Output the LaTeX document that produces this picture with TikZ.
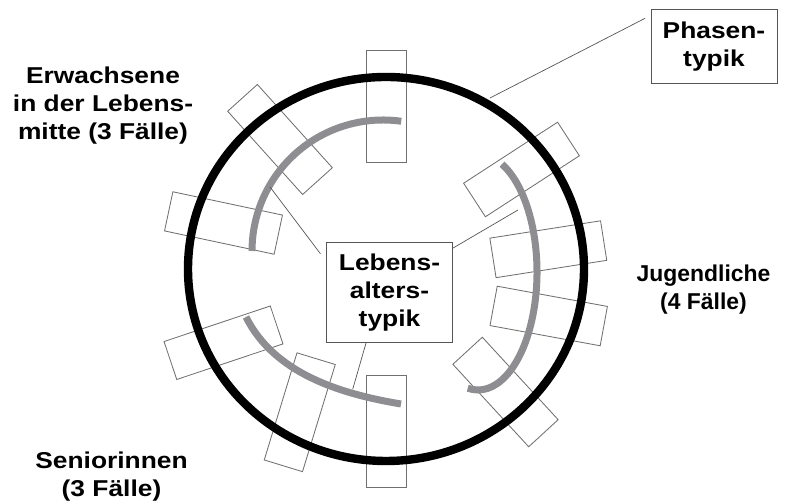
\documentclass[tikz,border=0pt]{standalone}
\usepackage{fontspec}
\setmainfont{Liberation Sans}[FakeStretch=1.15]
\newfontfamily\plainsans{Liberation Sans}
\usepackage{xcolor}
\usepackage{tikz}
\definecolor{arcgray}{RGB}{142,142,146}
\definecolor{slotgray}{RGB}{112,112,112}
\definecolor{linegray}{RGB}{85,85,85}
\tikzset{
  slot/.style={draw=slotgray, line width=0.6pt, inner sep=0pt, minimum width=2.8cm, minimum height=1cm},
  typbox/.style={draw=linegray, fill=white, line width=0.7pt, inner sep=0pt, align=center, font=\bfseries\fontsize{16.3}{20}\selectfont},
  grouplabel/.style={inner sep=0pt, align=center, font=\bfseries\fontsize{16.3}{20}\selectfont},
  link/.style={draw=linegray, line width=0.5pt},
  lifearc/.style={draw=arcgray, line width=0.175cm}
}

\begin{document}
\begin{tikzpicture}[x=0.025cm, y=0.025cm]
\useasboundingbox (0,0) rectangle (795,503);

% cases
\foreach \x/\y/\a [count=\i] in {386/397/90, 280/363.5/132, 223.5/280/168, 223.5/160.25/198.5,
  299.75/90.75/253, 386/71.5/90, 505.5/111/-47.4, 548.7/187/-10.4, 548.3/253.75/8.9, 521.5/333.5/33}
  \node[slot, rotate=\a] (case\i) at (\x,\y) {};

\draw[line width=0.21cm] (386,234) ellipse[x radius=198, y radius=192];

% groups of cases
\draw[lifearc] (383,252) ++(82:131) arc[start angle=82, end angle=180, radius=131];
\draw[lifearc] (478,231) ++(66:59 and 118) arc[start angle=66, end angle=-100, x radius=59, y radius=118];
\draw[lifearc] (246,186) .. controls (274,130) and (339,109.3) .. (401,99);

\node[typbox, minimum width=3.15cm, minimum height=1.825cm] (phasen) at (714,456.5) {Phasen-\\typik};
\node[typbox, minimum width=3.125cm, minimum height=2.475cm] (lebens) at (389.5,210.5) {Lebens-\\alters-\\typik};

\node[grouplabel] (erw) at (103,397.5) {Erwachsene\\in der Lebens-\\mitte (3 Fälle)};
\node[grouplabel, font=\plainsans\bfseries\fontsize{16.3}{20}\selectfont] (jug) at (703.5,213) {Jugendliche\\(4 Fälle)};
\node[grouplabel] (sen) at (111.5,26) {Seniorinnen\\(3 Fälle)};

\coordinate (ring) at (490,405);
\coordinate (arcA) at (270,316);
\coordinate (arcB) at (518,293);
\coordinate (arcC) at (352.7,113.7);

\draw[link, shorten >=0.15cm] (ring) -- (phasen.154);
\draw[link, shorten >=0.25cm] (arcA) -- (lebens.154);
\draw[link] (lebens.35) -- (arcB);
\draw[link] (lebens.245) -- (arcC);

\end{tikzpicture}
\end{document}
